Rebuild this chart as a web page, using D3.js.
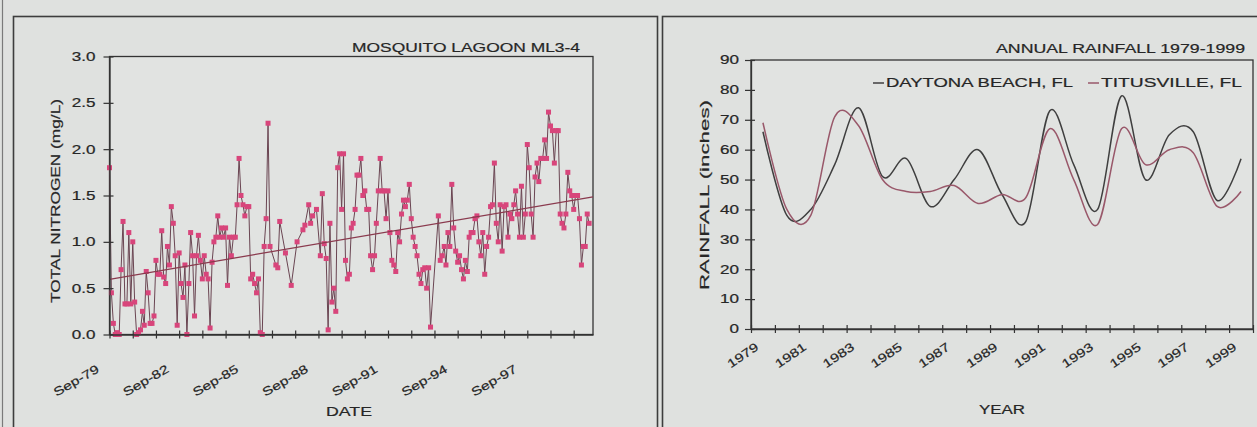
<!DOCTYPE html>
<html><head><meta charset="utf-8">
<script src="https://cdn.jsdelivr.net/npm/d3@7"></script>
<style>
html,body{margin:0;padding:0;background:#dfe1df;}
svg{display:block;}
text{font-family:"Liberation Sans",Arial,sans-serif;fill:#262626;stroke:#262626;stroke-width:0.2px;}
</style></head><body>
<svg id="c" width="1257" height="427"></svg>
<script>
// ---------------- DATA ----------------
const nitrogenDates = [
"1979-09","1979-10","1979-11","1979-12","1980-01","1980-02","1980-03","1980-04","1980-05","1980-06","1980-07","1980-08",
"1980-09","1980-10","1980-11","1980-12","1981-01","1981-02","1981-03","1981-04","1981-05","1981-06","1981-07","1981-08",
"1981-09","1981-10","1981-11","1981-12","1982-01","1982-02","1982-03","1982-04","1982-05","1982-06","1982-07","1982-08",
"1982-09","1982-10","1982-11","1982-12","1983-01","1983-02","1983-03","1983-04","1983-05","1983-06","1983-07","1983-08",
"1983-09","1983-10","1983-11","1983-12","1984-01","1984-02","1984-03","1984-04","1984-05","1984-06","1984-07","1984-08",
"1984-09","1984-10","1984-11","1984-12","1985-01","1985-02","1985-03","1985-04","1985-05","1985-06","1985-07","1985-08",
"1985-09","1985-10","1985-11","1985-12","1986-01","1986-02","1986-03","1986-04","1986-05","1986-06","1986-07","1986-08",
"1986-11","1986-12","1987-01","1987-04","1987-07","1987-10","1988-01","1988-02","1988-04","1988-05","1988-06","1988-08","1988-10","1988-11","1988-12",
"1989-01","1989-02","1989-03","1989-04","1989-05","1989-06","1989-07","1989-08","1989-09","1989-10","1989-11","1989-12",
"1990-01","1990-02","1990-03","1990-04","1990-05","1990-06","1990-07","1990-08","1990-09","1990-10","1990-11","1990-12",
"1991-01","1991-02","1991-03","1991-04","1991-05","1991-06","1991-07","1991-08","1991-09","1991-10","1991-11","1991-12",
"1992-01","1992-02","1992-03","1992-04","1992-05","1992-06","1992-07","1992-08","1992-09","1992-10","1992-11","1992-12",
"1993-01","1993-02","1993-03","1993-04","1993-05","1993-06","1993-07",
"1993-11","1993-12",
"1994-01","1994-02","1994-03","1994-04","1994-05","1994-06","1994-07","1994-08","1994-09","1994-10","1994-11","1994-12",
"1995-01","1995-02","1995-03","1995-04","1995-05","1995-06","1995-07","1995-08","1995-09","1995-10","1995-11","1995-12",
"1996-01","1996-02","1996-03","1996-04","1996-05","1996-06","1996-07","1996-08","1996-09","1996-10","1996-11","1996-12",
"1997-01","1997-02","1997-03","1997-04","1997-05","1997-06","1997-07","1997-08","1997-09","1997-10","1997-11","1997-12",
"1998-01","1998-02","1998-03","1998-04","1998-05","1998-06","1998-07","1998-08","1998-09","1998-10","1998-11","1998-12",
"1999-01","1999-02","1999-03","1999-04","1999-05","1999-06","1999-07","1999-08","1999-09","1999-10","1999-11","1999-12",
"2000-01","2000-02","2000-03","2000-04","2000-05"
];
const nitrogenValues = [
1.8,0.45,0.12,0.0,0.02,0.0,0.7,1.22,0.33,0.33,1.1,0.33,
1.0,0.35,0.0,0.02,0.05,0.25,0.1,0.68,0.45,0.12,0.12,0.2,
0.8,0.65,0.65,1.12,0.62,0.55,0.95,0.75,1.38,1.2,0.85,0.1,
0.88,0.55,0.4,0.75,0.0,0.55,1.1,0.85,0.2,0.85,1.07,0.8,
0.6,0.85,0.65,0.6,0.07,0.78,1.0,1.05,1.28,1.05,1.15,1.05,
1.15,0.53,1.05,0.85,1.05,1.05,1.4,1.9,1.5,1.4,1.28,1.38,
1.38,0.6,0.65,0.55,0.45,0.6,0.02,0.0,0.95,1.25,2.28,0.95,
0.75,0.72,1.22,0.88,0.53,1.0,1.13,1.18,1.4,1.2,1.28,1.35,0.85,1.52,0.98,
0.82,0.05,1.2,0.35,0.5,0.25,1.8,1.95,1.35,1.95,0.8,0.6,
0.65,1.15,1.2,1.35,1.72,1.72,1.9,1.5,1.55,1.35,1.35,0.85,
0.7,0.85,1.2,1.55,1.9,1.55,1.55,1.25,1.55,1.1,0.8,0.75,
0.68,1.1,1.0,1.3,1.45,1.38,1.45,1.62,1.25,1.05,0.95,0.85,
0.65,0.55,0.7,0.72,0.5,0.72,0.08,
1.28,0.8,
0.85,0.95,0.75,1.1,0.95,1.62,1.15,0.9,0.78,0.85,0.7,0.6,
0.8,0.68,1.05,1.1,1.1,1.25,1.28,1.0,0.85,1.1,0.65,0.95,
1.05,1.38,1.4,1.85,1.2,1.0,1.4,0.9,1.38,1.4,1.05,1.3,
1.25,1.4,1.55,1.3,1.05,1.6,1.05,1.3,2.05,1.8,1.3,1.05,
1.7,1.85,1.65,1.9,1.9,2.1,1.9,2.4,2.25,2.2,1.85,2.2,
2.2,1.3,1.2,1.15,1.3,1.75,1.55,1.5,1.35,1.5,1.5,1.25,
0.75,0.95,0.95,1.3,1.2
];
const trendDates = ["1979-09","2000-07"];
const trendValues = [0.595, 1.485];
const nitrogenYTicks = [0.0,0.5,1.0,1.5,2.0,2.5,3.0];
const nitrogenXTickLabels = ["Sep-79","Sep-82","Sep-85","Sep-88","Sep-91","Sep-94","Sep-97"];

const rainYears = [1979,1980,1981,1982,1983,1984,1985,1986,1987,1988,1989,1990,1991,1992,1993,1994,1995,1996,1997,1998,1999];
const daytonaRain =    [66,38,40,55,74,51,57,41,50,60,45,36,73,55,40,78,50,65,66,43,57];
const titusvilleRain = [69,40,38,71,68,50,46,46,48,42,45,44,67,50,35,67,55,60,59,41,46];
const rainYTicks = [0,10,20,30,40,50,60,70,80,90];
const rainXTickLabels = ["1979","1981","1983","1985","1987","1989","1991","1993","1995","1997","1999"];
const rainSeriesNames = ["DAYTONA BEACH, FL","TITUSVILLE, FL"];

// ---------------- DRAW ----------------
const svg = d3.select("#c");
const parseM = d3.timeParse("%Y-%m");
const parseLbl = d3.timeParse("%b-%y");
const FONT = 12, WIDE = 1.42;
function widen(sel, f){ sel.each(function(){ const L=this.getComputedTextLength(); if(L>0){ this.setAttribute("textLength",(L*f).toFixed(1)); this.setAttribute("lengthAdjust","spacingAndGlyphs"); } }); }
function fitTo(sel, w){ sel.attr("textLength", w).attr("lengthAdjust","spacingAndGlyphs"); }

svg.append("rect").attr("width",1257).attr("height",427).attr("fill","#dfe1df");
// panel frames
svg.append("line").attr("x1",2.5).attr("x2",2.5).attr("y1",0).attr("y2",427).attr("stroke","#7a7a7a").attr("stroke-width",1.2);
svg.append("rect").attr("x",13.5).attr("y",16.5).attr("width",644).attr("height",430).attr("fill","none").attr("stroke","#3d3d3d").attr("stroke-width",1.6);
svg.append("rect").attr("x",662.5).attr("y",16.5).attr("width",620).attr("height",430).attr("fill","none").attr("stroke","#3d3d3d").attr("stroke-width",1.6);

// ===== LEFT: nitrogen =====
const L = svg.append("g");
const nData = nitrogenDates.map((d,i)=>({date:parseM(d), v:nitrogenValues[i]}));
const nx = d3.scaleTime().domain([parseM("1979-09"), parseM("2000-07")]).range([109.5,593]);
const ny = d3.scaleLinear().domain([0,3]).range([334.5,56.5]);

L.append("rect").attr("x",nx.range()[0]).attr("y",ny(3)).attr("width",nx.range()[1]-nx.range()[0]).attr("height",ny(0)-ny(3))
 .attr("fill","#e1e3e1").attr("stroke","#333").attr("stroke-width",1.3);

L.append("path").datum(nData).attr("fill","none").attr("stroke","#6a4552").attr("stroke-width",1)
 .attr("d", d3.line().x(d=>nx(d.date)).y(d=>ny(d.v)));
L.append("g").selectAll("rect").data(nData).join("rect")
 .attr("x",d=>nx(d.date)-2.5).attr("y",d=>ny(d.v)-2.5).attr("width",5).attr("height",5)
 .attr("fill","#d8457b");
const tData = trendDates.map((d,i)=>({date:parseM(d), v:trendValues[i]}));
L.append("path").datum(tData).attr("fill","none").attr("stroke","#8a3a4e").attr("stroke-width",1.3)
 .attr("d", d3.line().x(d=>nx(d.date)).y(d=>ny(d.v)));

// y axis
const nyAx = L.append("g").attr("transform",`translate(${nx.range()[0]},0)`)
 .call(d3.axisLeft(ny).tickValues(nitrogenYTicks).tickFormat(d3.format(".1f")).tickSize(6).tickSizeOuter(0).tickPadding(8));
nyAx.select(".domain").attr("stroke","#333").attr("stroke-width",1.3);
nyAx.selectAll(".tick line").attr("x1",4).attr("stroke","#333").attr("stroke-width",1.2);
nyAx.selectAll(".tick text").attr("font-size",FONT).attr("font-family",null).attr("fill",null).call(widen,WIDE);
// x axis tick marks (yearly)
const yearTicks = d3.range(1979,2000).map(y=>new Date(y,8,1));
const nxAx = L.append("g").attr("transform",`translate(0,${ny(0)})`)
 .call(d3.axisBottom(nx).tickValues(yearTicks).tickFormat("").tickSize(4).tickSizeOuter(0));
nxAx.select(".domain").attr("stroke","#333").attr("stroke-width",1.3);
nxAx.selectAll(".tick line").attr("y1",-4).attr("stroke","#333").attr("stroke-width",1.2);
// x labels
const nxLbl = L.append("g").attr("transform",`translate(0,${ny(0)})`)
 .call(d3.axisBottom(nx).tickValues(nitrogenXTickLabels.map(parseLbl)).tickFormat(d3.timeFormat("%b-%y")).tickSize(0));
nxLbl.select(".domain").remove();
nxLbl.selectAll(".tick text").attr("font-size",FONT).attr("font-family",null).attr("fill",null)
 .attr("text-anchor","end").attr("y",0).attr("dy",0).attr("transform","translate(-10,37) rotate(-30)").call(widen,1.3);

L.append("text").attr("x",580).attr("y",52).attr("text-anchor","end").attr("font-size",12.5).text("MOSQUITO LAGOON ML3-4").call(fitTo,228);
L.append("text").attr("x",349).attr("y",416).attr("text-anchor","middle").attr("font-size",12.5).text("DATE").call(fitTo,46);
L.append("text").attr("transform","translate(60,201) rotate(-90)").attr("text-anchor","middle").attr("font-size",13.5).text("TOTAL NITROGEN (mg/L)").call(fitTo,204);

// ===== RIGHT: rainfall =====
const R = svg.append("g");
const rx = d3.scaleLinear().domain([1979,2000]).range([751,1253]);
const ry = d3.scaleLinear().domain([0,90]).range([329,60]);
R.append("rect").attr("x",rx(1979)).attr("y",ry(90)).attr("width",rx(2000)-rx(1979)).attr("height",ry(0)-ry(90))
 .attr("fill","#e1e3e1").attr("stroke","#333").attr("stroke-width",1.3);

const rLine = d3.line().x(d=>rx(d.year+0.5)).y(d=>ry(d.v)).curve(d3.curveCardinal.tension(0));
const series = [
 {name:rainSeriesNames[0], values:daytonaRain, color:"#3f3f3f"},
 {name:rainSeriesNames[1], values:titusvilleRain, color:"#99586a"}
];
series.forEach(s=>{
  R.append("path").datum(rainYears.map((y,i)=>({year:y,v:s.values[i]})))
   .attr("fill","none").attr("stroke",s.color).attr("stroke-width",1.5).attr("d",rLine);
});
const ryAx = R.append("g").attr("transform",`translate(${rx(1979)},0)`)
 .call(d3.axisLeft(ry).tickValues(rainYTicks).tickSize(6).tickSizeOuter(0).tickPadding(6));
ryAx.select(".domain").attr("stroke","#333").attr("stroke-width",1.3);
ryAx.selectAll(".tick line").attr("x1",4).attr("stroke","#333").attr("stroke-width",1.2);
ryAx.selectAll(".tick text").attr("font-size",FONT).attr("font-family",null).attr("fill",null).call(widen,WIDE);
const rxAx = R.append("g").attr("transform",`translate(0,${ry(0)})`)
 .call(d3.axisBottom(rx).tickValues(d3.range(1979,2001)).tickFormat("").tickSize(4).tickSizeOuter(0));
rxAx.select(".domain").attr("stroke","#333").attr("stroke-width",1.3);
rxAx.selectAll(".tick line").attr("y1",-4).attr("stroke","#333").attr("stroke-width",1.2);
const rxLbl = R.append("g").attr("transform",`translate(0,${ry(0)})`)
 .call(d3.axisBottom(rx).tickValues(rainXTickLabels.map(d=>+d+0.5)).tickFormat(d=>String(Math.floor(d))).tickSize(0));
rxLbl.select(".domain").remove();
rxLbl.selectAll(".tick text").attr("font-size",FONT).attr("font-family",null).attr("fill",null)
 .attr("text-anchor","end").attr("y",0).attr("dy",0).attr("transform","translate(-4,20) rotate(-34)").call(widen,1.3);

R.append("text").attr("x",1245).attr("y",53).attr("text-anchor","end").attr("font-size",12.5).text("ANNUAL RAINFALL 1979-1999").call(fitTo,249);
R.append("text").attr("x",1002).attr("y",414).attr("text-anchor","middle").attr("font-size",12.5).text("YEAR").call(fitTo,46);
R.append("text").attr("transform","translate(709,195) rotate(-90)").attr("text-anchor","middle").attr("font-size",13.5).text("RAINFALL (inches)").call(fitTo,190);
// legend
const lg = R.append("g");
const legX = [873, 1088], legW = [200, 154];
series.forEach((s,i)=>{
  lg.append("line").attr("x1",legX[i]).attr("x2",legX[i]+11).attr("y1",83).attr("y2",83).attr("stroke",s.color).attr("stroke-width",1.5);
  lg.append("text").attr("x",legX[i]+13).attr("y",87).attr("font-size",12.5).text(s.name).call(fitTo,legW[i]-13);
});
</script>
</body></html>
